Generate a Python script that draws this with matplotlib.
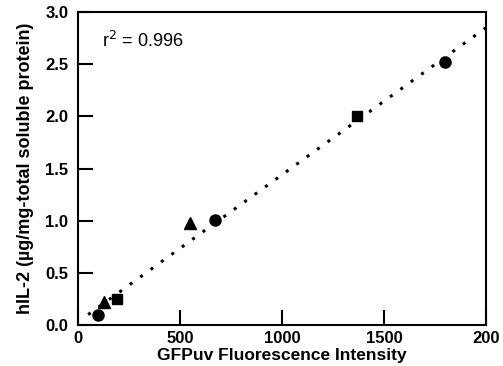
import matplotlib

matplotlib.use("Agg")
import matplotlib.pyplot as plt

plt.rcParams["font.family"] = ["Liberation Sans", "DejaVu Sans"]

# Data
circle_x = [100, 670, 1800]
circle_y = [0.10, 1.01, 2.52]
triangle_x = [130, 550]
triangle_y = [0.22, 0.98]
square_x = [190, 1370]
square_y = [0.25, 2.00]

# Regression line endpoints
fit_x = [50, 2000]
fit_y = [0.10, 2.85]

x_ticks = [0, 500, 1000, 1500, 2000]
x_labels = ["0", "500", "1000", "1500", "200"]
y_ticks = [0, 0.5, 1.0, 1.5, 2.0, 2.5, 3.0]
y_labels = ["0.0", "0.5", "1.0", "1.5", "2.0", "2.5", "3.0"]

fig = plt.figure(figsize=(5.03, 3.66), dpi=100)
ax = fig.add_axes([0.155, 0.112, 0.811, 0.855])

ax.plot(fit_x, fit_y, color="black", linestyle=(0, (1, 3.2)), linewidth=2.2)
ax.plot(circle_x, circle_y, "o", color="black", markersize=8)
ax.plot(triangle_x, triangle_y, "^", color="black", markersize=8)
ax.plot(square_x, square_y, "s", color="black", markersize=7)

ax.set_xlim(0, 2000)
ax.set_ylim(0, 3.0)
ax.set_xticks(x_ticks)
ax.set_xticklabels(x_labels)
ax.set_yticks(y_ticks)
ax.set_yticklabels(y_labels)
ax.tick_params(direction="in", length=11, width=1.5, labelsize=12)
ax.tick_params(axis="y", pad=7)
ax.tick_params(axis="x", pad=4)
for lab in ax.get_xticklabels() + ax.get_yticklabels():
    lab.set_fontweight("bold")
for s in ax.spines.values():
    s.set_linewidth(1.5)

ax.set_xlabel("GFPuv Fluorescence Intensity", fontsize=12.5, fontweight="bold")
ax.xaxis.set_label_coords(0.5, -0.075)
ax.set_ylabel("hIL-2 (µg/mg-total soluble protein)", fontsize=13, fontweight="bold", labelpad=8)
ax.text(0.06, 0.89, r"r$^2$ = 0.996", transform=ax.transAxes, fontsize=13)

fig.savefig("out.png", dpi=100)
